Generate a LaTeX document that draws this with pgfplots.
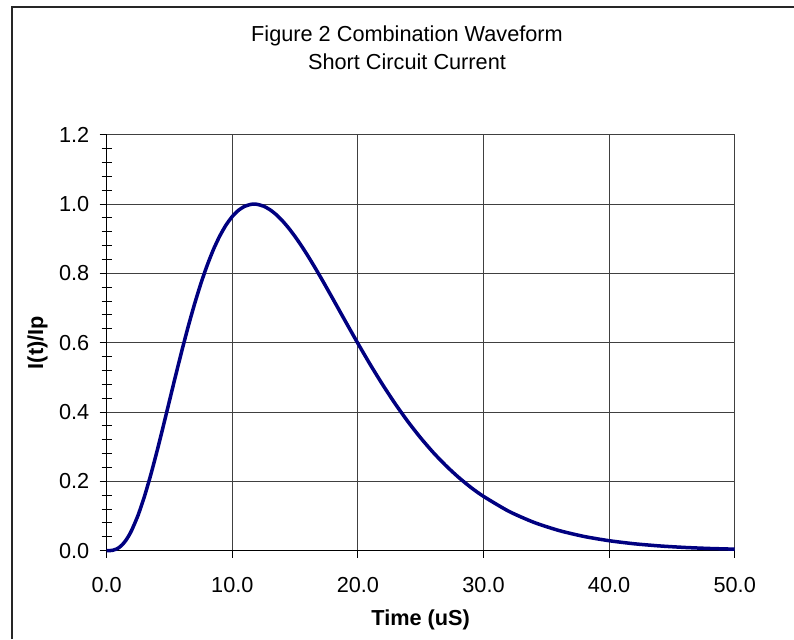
\documentclass[border=0pt]{standalone}
\usepackage{pgfplots}
\pgfplotsset{compat=1.18}
\usepackage{fontspec}
\setmainfont{Liberation Sans}
\begin{document}
\begin{tikzpicture}[x=1pt,y=1pt]
\useasboundingbox (0,0) rectangle (794,639);
\draw[line width=1.5pt,black!85] (12,0) -- (12,632) -- (794,632);
\node[anchor=base,font=\fontsize{21.7}{26}\selectfont] at (407,597) {Figure 2 Combination Waveform};
\node[anchor=base,font=\fontsize{21.7}{26}\selectfont] at (407,569) {Short Circuit Current};
\begin{axis}[
  at={(106.7pt,88.3pt)}, anchor=south west,
  width=628pt, height=416pt, scale only axis,
  xmin=0, xmax=50, ymin=0, ymax=1.2,
  xtick={0,10,20,30,40,50},
  ytick={0,0.2,0.4,0.6,0.8,1.0,1.2},
  minor y tick num=4,
  axis x line*=bottom, axis y line*=left,
  axis line style={line width=1pt,black,-},
  grid=major,
  major grid style={line width=1pt,black!75},
  tick align=outside,
  major tick length=7pt,
  minor tick length=10pt,
  every tick/.style={black,line width=1pt},
  minor y tick style={xshift=5pt},
  font=\fontsize{21.7}{26}\selectfont,
  ticklabel style={font=\fontsize{21.7}{26}\selectfont},
  /pgf/number format/assume math mode=true,
  xticklabel={\pgfmathprintnumber[fixed,fixed zerofill,precision=1]{\tick}},
  yticklabel={\pgfmathprintnumber[fixed,fixed zerofill,precision=1]{\tick}},
  xticklabel style={yshift=-16pt},
  yticklabel style={xshift=-7pt},
  xlabel={\textbf{Time (uS)}},
  ylabel={\textbf{I(t)/Ip}},
  xlabel style={at={(axis description cs:0.5,-0.181)}, anchor=base},
  ylabel style={at={(axis description cs:-0.1102,0.5)}, anchor=center, rotate=0},
  clip=false,
]
\addplot[color={rgb,255:red,0;green,0;blue,128}, line width=3.5pt, line join=round, smooth, tension=0.4] coordinates {
(0,0) (0.25,0.0002) (0.5,0.0014) (0.75,0.0043) (1,0.0096) (1.25,0.0176) (1.5,0.0286)
(1.75,0.0426) (2,0.0597) (2.5,0.1025) (3,0.1559)
(3.5,0.2179) (4,0.2862) (4.5,0.3586) (5,0.4328) (5.5,0.5070) (6,0.5792)
(6.5,0.6481) (7,0.7122) (7.5,0.7709) (8,0.8232) (8.5,0.8690) (9,0.9076) (9.5,0.9394) (10,0.9641)
(10.5,0.9821) (11,0.9937) (11.5,0.9992) (11.73,1.0000) (12,0.9990) (12.5,0.9937) (13,0.9835)
(13.5,0.9693) (14,0.9512) (14.5,0.9300) (15,0.9060) (15.5,0.8797)
(16,0.8514) (16.5,0.8217) (17,0.7908) (17.5,0.7591) (18,0.7269) (18.5,0.6945) (19,0.6620)
(19.5,0.6298) (20,0.5979) (21,0.5359) (22,0.4772) (23,0.4222)
(24,0.3715) (25,0.3252) (26,0.2832) (27,0.2456) (28,0.2121) (29,0.1824) (30,0.1567) (32,0.1139) (34,0.0819)
(36,0.0583) (38,0.0411) (40,0.0288) (42,0.0200) (44,0.0138) (46,0.0094)
(48,0.0064) (50,0.0044)
};
\end{axis}
\end{tikzpicture}
\end{document}
